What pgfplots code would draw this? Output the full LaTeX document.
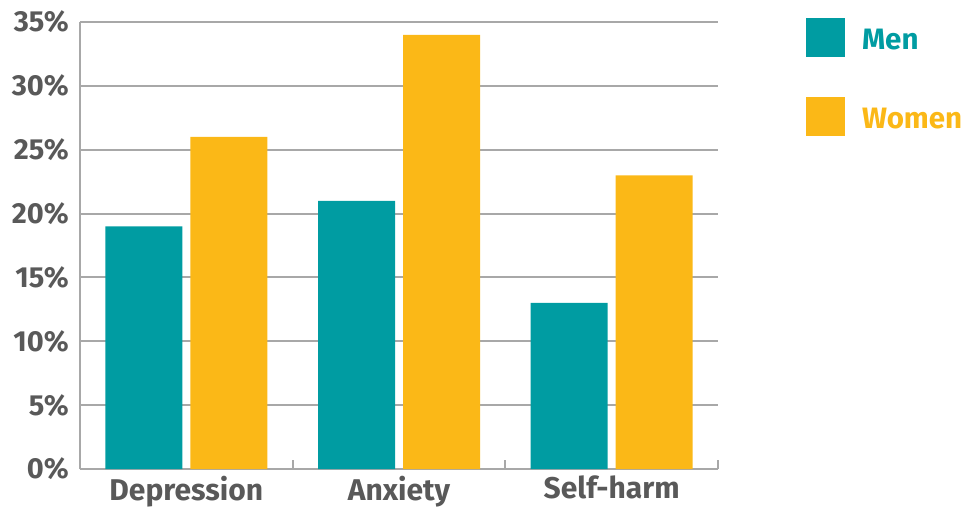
\documentclass[border=0pt]{standalone}
\usepackage{pgfplots}
\pgfplotsset{compat=1.18}
\usepackage{fontspec}
\setmainfont{Fira Sans}
\definecolor{menc}{HTML}{009CA2}
\definecolor{womc}{HTML}{FBB817}
\definecolor{txt}{HTML}{595959}
\definecolor{gridc}{HTML}{A8A8A8}
\begin{document}
\begin{tikzpicture}
\begin{axis}[
  at={(0,0)}, anchor=south west,
  scale only axis, width=638pt, height=447pt,
  xmin=-0.5, xmax=2.5, ymin=0, ymax=35,
  ybar=8pt, bar width=77pt,
  axis x line=bottom, axis y line=left,
  axis line style={gridc, line width=2.5pt, -},
  xtick={0,1,2}, xticklabels={Depression,Anxiety,Self-harm},
  major tick length=0pt,
  extra x ticks={-0.5,0.5,1.5,2.5}, extra x tick labels={},
  extra x tick style={major tick style={draw=gridc, line width=2pt}, tick align=inside, major tick length=9pt, xmajorgrids=false},
  ytick={0,5,...,35},
  yticklabel={\pgfmathprintnumber{\tick}\%},
  ymajorgrids, grid style={gridc, line width=2pt},
  /pgf/number format/assume math mode=true,
  tick label style={font=\fontsize{29}{30}\selectfont\bfseries, text=txt, inner sep=0pt},
  xticklabel style={font=\fontsize{30}{31}\selectfont\bfseries},
  yticklabel shift=11pt, xticklabel shift=7pt,
  legend style={draw=none, at={(1.138,1.009)}, anchor=north west,
    font=\fontsize{29.5}{30}\selectfont\bfseries, inner sep=0pt, outer sep=0pt,
    row sep=40pt, column sep=17pt, nodes={inner sep=0pt, anchor=west}},
  legend cell align=left,
]
\addplot[fill=menc, draw=none, legend image code/.code={\fill[menc] (0pt,-19.5pt) rectangle (39pt,19.5pt);}]
  coordinates {(0,19) (1,21) (2,13)};
\addlegendentry{\raisebox{-5pt}{\textcolor{menc}{Men}}}
\addplot[fill=womc, draw=none, legend image code/.code={\fill[womc] (0pt,-19.5pt) rectangle (39pt,19.5pt);}]
  coordinates {(0,26) (1,34) (2,23)};
\addlegendentry{\raisebox{-5pt}{\textcolor{womc}{Women}}}
\end{axis}
\path (-80pt,-36pt) rectangle (898pt,469pt);
\end{tikzpicture}
\end{document}
